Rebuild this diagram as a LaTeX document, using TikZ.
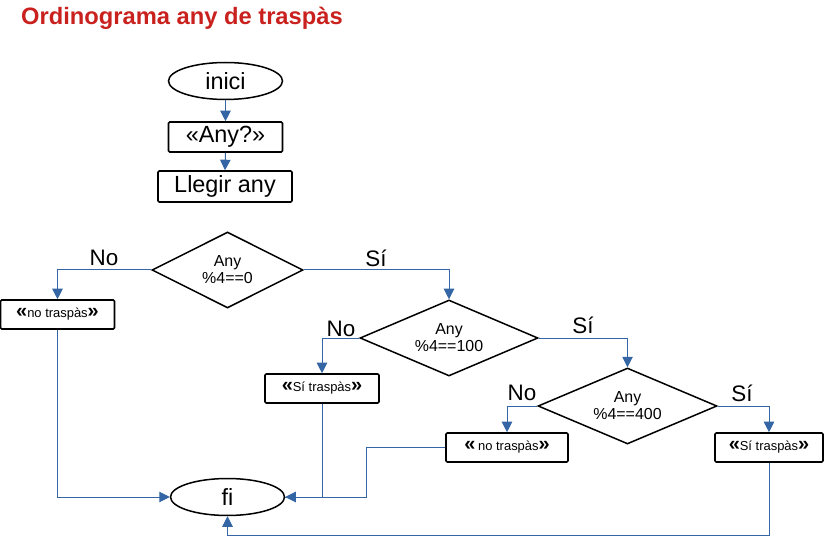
\documentclass[tikz,border=0pt]{standalone}
\usepackage{fontspec}
\setmainfont{Liberation Sans}
\usetikzlibrary{shapes.geometric,arrows.meta}
\definecolor{titlered}{HTML}{C9211E}
\definecolor{linkblue}{HTML}{3465A4}
\newcommand{\gql}{{\fontsize{20}{20}\selectfont\bfseries«}}
\newcommand{\gqr}{{\fontsize{20}{20}\selectfont\bfseries»}}
\newcommand{\gq}[1]{\gql{\fontsize{13}{13}\selectfont #1}\gqr}
\begin{document}
\begin{tikzpicture}[x=1bp,y=-1bp,
  conn/.style={draw=linkblue,line width=1bp,-{Triangle[length=10.5bp,width=10.5bp]}},
  plain/.style={draw=linkblue,line width=1bp},
  term/.style={ellipse,draw,line width=1.5bp,inner sep=0pt,font=\fontsize{23.5}{24}\selectfont},
  procbox/.style={rectangle,draw,line width=1.6bp,rounded corners=1.2bp,inner sep=0pt,font=\fontsize{23.5}{24}\selectfont},
  outbox/.style={rectangle,draw,line width=1.6bp,rounded corners=1.2bp,inner sep=0pt,minimum height=29bp},
  decision/.style={diamond,draw,line width=1.5bp,inner sep=0pt,aspect=2,align=center,font=\fontsize{16}{17}\selectfont},
  lbl/.style={inner sep=0pt,font=\fontsize{22.5}{23}\selectfont}]
\useasboundingbox (0,0) rectangle (824,536);
\node[anchor=base west,inner sep=0pt,text=titlered,font=\fontsize{23.8}{24}\selectfont\bfseries] (title) at (21,25) {Ordinograma any de traspàs};

\node[term,minimum width=114bp,minimum height=37bp] (inici) at (225.5,81) {inici};
\node[procbox,minimum width=114bp,minimum height=30bp] (anyq) at (225.5,137) {«Any?»};
\node[procbox,minimum width=134bp,minimum height=31bp] (llegir) at (225,186.5) {Llegir any};

\node[decision,minimum width=151bp,minimum height=76bp] (d1) at (227.5,270) {Any\\\%4==0};
\node[decision,minimum width=178bp,minimum height=76bp] (d2) at (449,338) {Any\\\%4==100};
\node[decision,minimum width=179bp,minimum height=76bp] (d3) at (627.5,406) {Any\\\%4==400};

\node[outbox,minimum width=114bp] (b1) at (57.5,314.5) {\gq{no traspàs}};
\node[outbox,minimum width=114bp] (b2) at (322,388.5) {\gq{Sí traspàs}};
\node[outbox,minimum width=122bp] (b3) at (507,447.5) {\gql{} {\fontsize{13}{13}\selectfont no traspàs}\gqr};
\node[outbox,minimum width=108bp] (b4) at (769,447.5) {\gq{Sí traspàs}};

\node[term,minimum width=114bp,minimum height=37bp] (fi) at (227.5,497) {fi};

\node[lbl] (no1) at (104,258) {No};
\node[lbl] (si1) at (376,258) {Sí};
\node[lbl] (no2) at (341,329) {No};
\node[lbl] (si2) at (583,325) {Sí};
\node[lbl] (no3) at (522,393) {No};
\node[lbl] (si3) at (742,393) {Sí};

\coordinate (j3) at (366,447.5);
\coordinate (low) at (0,535);

\draw[conn] (inici.south) -- (anyq.north);
\draw[conn] (anyq.south) -- (llegir.north);
\draw[conn] (d1.west) -| (b1.north);
\draw[conn] (d1.east) -| (d2.north);
\draw[conn] (d2.west) -| (b2.north);
\draw[conn] (d2.east) -| (d3.north);
\draw[conn] (d3.west) -| (b3.north);
\draw[conn] (d3.east) -| (b4.north);
\draw[conn] (b1.south) |- (fi.west);
\draw[conn] (b2.south) |- (fi.east);
\draw[plain] (b3.west) -- (j3) |- (fi.east);
\draw[conn] (b4.south) -- (b4.south |- low) -| (fi.south);
\end{tikzpicture}
\end{document}
